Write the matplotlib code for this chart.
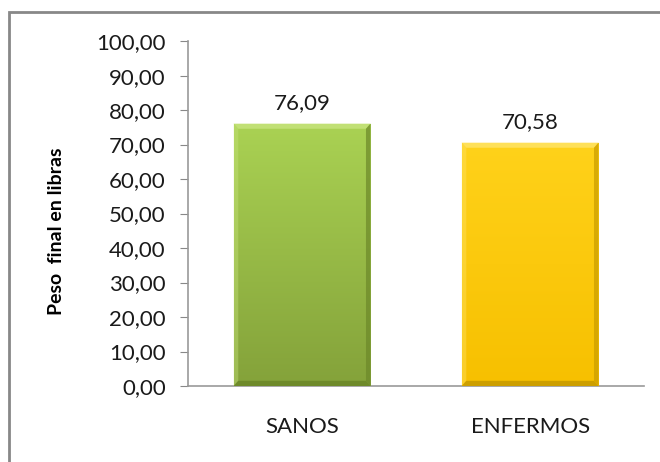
import numpy as np
import matplotlib.pyplot as plt
from matplotlib.patches import Rectangle, Polygon
from matplotlib.colors import LinearSegmentedColormap

categories = ['SANOS', 'ENFERMOS']
peso_final = [76.09, 70.58]
bar_colors = [('#aad253', '#84a23a'), ('#ffd21a', '#f7c000')]
edge_colors = [('#c8e47e', '#6c8829'), ('#ffe46a', '#c99c00')]

plt.rcParams['font.family'] = ['Lato', 'DejaVu Sans']

fig = plt.figure(figsize=(6.6, 4.62), dpi=100)
ax = fig.add_axes([0.285, 0.1645, 0.691, 0.7465])

x = np.arange(len(categories))
width = 0.6
bars = ax.bar(x, peso_final, width=width, color='none', edgecolor='none', zorder=3)

# vertical gradient inside each bar, light bevel on top/left, dark on bottom/right
for bar, (top, bottom), (light, dark) in zip(bars, bar_colors, edge_colors):
    x0, y0 = bar.get_x(), bar.get_y()
    w, h = bar.get_width(), bar.get_height()
    cmap = LinearSegmentedColormap.from_list('g', [bottom, top])
    grad = np.linspace(0, 1, 256).reshape(-1, 1)
    img = ax.imshow(grad, cmap=cmap, extent=[x0, x0 + w, y0, y0 + h],
                    origin='lower', aspect='auto', zorder=3)
    img.set_clip_path(bar)
    bw, bh = 0.02, 1.5
    ax.add_patch(Polygon([(x0, y0 + h), (x0 + w, y0 + h), (x0 + w - bw, y0 + h - bh),
                          (x0 + bw, y0 + h - bh)], facecolor=light, edgecolor='none',
                         alpha=0.8, zorder=4))
    ax.add_patch(Polygon([(x0, y0), (x0, y0 + h), (x0 + bw, y0 + h - bh), (x0 + bw, y0 + bh)],
                         facecolor=light, edgecolor='none', alpha=0.4, zorder=4))
    ax.add_patch(Polygon([(x0 + w, y0), (x0 + w, y0 + h), (x0 + w - bw, y0 + h - bh),
                          (x0 + w - bw, y0 + bh)], facecolor=dark, edgecolor='none',
                         alpha=0.7, zorder=4))
    ax.add_patch(Polygon([(x0, y0), (x0 + w, y0), (x0 + w - bw, y0 + bh), (x0 + bw, y0 + bh)],
                         facecolor=dark, edgecolor='none', alpha=0.9, zorder=4))
    ax.text(x0 + w / 2, y0 + h + 3, f'{h:.2f}'.replace('.', ','),
            ha='center', va='bottom', fontsize=16, color='#1a1a1a')

ax.set_xlim(-0.5, 1.5)
ax.set_ylim(0, 100)
ax.set_yticks(np.arange(0, 101, 10))
ax.set_yticklabels([f'{v:.2f}'.replace('.', ',') for v in np.arange(0, 101, 10)])
ax.set_xticks(x)
ax.set_xticklabels(categories)
ax.tick_params(axis='y', length=6, color='#888888', labelsize=16, pad=10,
               labelcolor='#1a1a1a')
ax.tick_params(axis='x', length=0, labelsize=16, pad=22, labelcolor='#1a1a1a')
ax.set_ylabel('Peso  final en libras', fontsize=14, fontweight='bold')
ax.yaxis.set_label_coords(-0.27, 0.45)

for side in ['top', 'right']:
    ax.spines[side].set_visible(False)
for side in ['left', 'bottom']:
    ax.spines[side].set_color('#999999')
    ax.spines[side].set_linewidth(1.2)

# outer chart frame
fig.patches.append(Rectangle((9 / 660, -0.1), 1.2, 1 - 12 / 462 + 0.1,
                             transform=fig.transFigure, fill=False,
                             edgecolor='#888888', linewidth=2))

fig.savefig('out.png', dpi=100)
